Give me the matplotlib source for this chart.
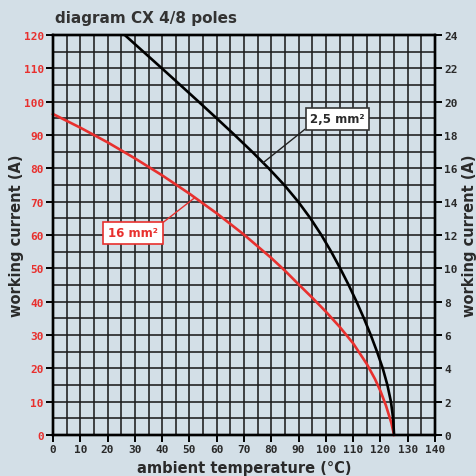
import numpy as np
import matplotlib
matplotlib.use("Agg")
import matplotlib.pyplot as plt
from matplotlib.ticker import MultipleLocator

# ---- data ----
title = "diagram CX 4/8 poles"
x_label = "ambient temperature (°C)"
y_label = "working current (A)"

# 16 mm² curve (left axis, A)
red_temp = [0, 10, 20, 30, 40, 50, 60, 70, 80, 85, 90, 95, 100, 105, 110, 115, 118, 120, 122,
            124, 125]
red_current = [96.3, 92.2, 87.8, 83.0, 77.9, 72.4, 66.5, 60.1, 53.1, 49.3, 45.2, 41.2, 37.0,
               32.5, 27.5, 21.3, 16.8, 13.2, 8.9, 3.6, 0.0]

# 2,5 mm² curve (right axis, A)
black_temp = [26.3, 33.1, 39.9, 46.65, 53.35, 60.0, 66.55, 72.95, 79.05, 84.75, 89.85, 94.35,
              98.35, 101.95, 105.25, 108.35, 111.25, 113.95, 116.45, 118.75, 120.85, 122.55,
              123.85, 124.65, 125.0]
black_current = [24, 23, 22, 21, 20, 19, 18, 17, 16, 15, 14, 13, 12, 11, 10, 9, 8, 7, 6, 5, 4, 3,
                 2, 1, 0]

label_black = "2,5 mm²"
label_red = "16 mm²"

x_ticks = list(range(0, 141, 10))
left_ticks = list(range(0, 121, 10))
right_ticks = list(range(0, 25, 2))

# ---- style ----
BG = "#d3dfe7"
RED = "#e8302e"
TXT = "#2a2a2a"
GRID = "#1c1c1c"

fig = plt.figure(figsize=(4.76, 4.77), dpi=100, facecolor=BG)
ax = fig.add_axes([53 / 476, 1 - 436 / 477, (435 - 53) / 476, (436 - 36) / 477])
ax.set_facecolor(BG)
ax.set_xlim(0, 140)
ax.set_ylim(0, 120)

ax.xaxis.set_major_locator(MultipleLocator(10))
ax.xaxis.set_minor_locator(MultipleLocator(5))
ax.yaxis.set_major_locator(MultipleLocator(10))
ax.yaxis.set_minor_locator(MultipleLocator(5))
ax.grid(True, which="both", color=GRID, lw=1.15, zorder=0)
ax.set_axisbelow(True)

for s in ax.spines.values():
    s.set_linewidth(1.7)
    s.set_color("black")

tick_font = dict(family="DejaVu Sans Mono", weight="bold", size=8)
ax.set_xticks(x_ticks)
ax.set_xticklabels([str(t) for t in x_ticks], color=TXT, **tick_font)
ax.set_yticks(left_ticks)
ax.set_yticklabels([str(t) for t in left_ticks], color=RED, **tick_font)
ax.tick_params(which="major", length=5, width=1.4, color="black", pad=1.5)
ax.tick_params(which="minor", length=0)

ax.plot(red_temp, red_current, color=RED, lw=1.9, zorder=3, clip_on=False,
        solid_joinstyle="round")

ax2 = ax.twinx()
ax2.set_ylim(0, 24)
ax2.set_yticks(right_ticks)
ax2.set_yticklabels([str(t) for t in right_ticks], color=TXT, **tick_font)
ax2.tick_params(length=5, width=1.4, color="black", pad=1.5)
ax2.set_facecolor("none")
for s in ax2.spines.values():
    s.set_linewidth(1.7)
ax2.plot(black_temp, black_current, color="black", lw=1.9, zorder=3, solid_joinstyle="round")

label_font = dict(family="DejaVu Sans", weight="bold", size=10.5, color=TXT)
ax.set_xlabel(x_label, labelpad=4, **label_font)
ax.set_ylabel(y_label, labelpad=0, **label_font)
ax2.set_ylabel(y_label, labelpad=3, **label_font)

fig.text(55 / 476, 1 - 18 / 477, title, family="DejaVu Sans", weight="bold", size=11,
         color="#333333", ha="left", va="center")

# annotations
xb = 77.0
yb = float(np.interp(xb, black_temp, black_current))
ax2.annotate(label_black, xy=(xb, yb), xytext=(104.2, 94.9 / 5), ha="center", va="center",
             fontsize=8.5, fontweight="bold", color=TXT, zorder=5,
             bbox=dict(boxstyle="square,pad=0.38", fc="white", ec="#333333", lw=1.2),
             arrowprops=dict(arrowstyle="-", color="#222222", lw=1.0, relpos=(0, 0),
                             shrinkA=0, shrinkB=0))

xr = 52.0
yr = float(np.interp(xr, red_temp, red_current))
ax2.annotate(label_red, xy=(xr, yr), xycoords=ax.transData, xytext=(29.3, 60.6),
             textcoords=ax.transData, ha="center", va="center",
             fontsize=8.5, fontweight="bold", color=RED, zorder=5,
             bbox=dict(boxstyle="square,pad=0.42", fc="white", ec=RED, lw=1.2),
             arrowprops=dict(arrowstyle="-", color=RED, lw=1.0, relpos=(1, 1),
                             shrinkA=0, shrinkB=0))

fig.savefig("out.png", dpi=100, facecolor=BG)
